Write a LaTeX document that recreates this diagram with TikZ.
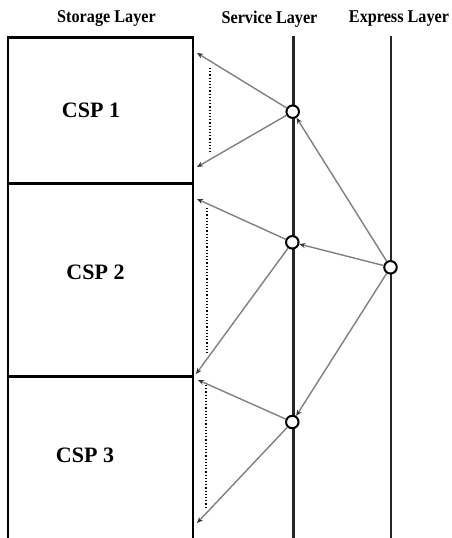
\documentclass[tikz,border=0pt]{standalone}
\usepackage{fontspec}
\setmainfont{Liberation Serif}
\usetikzlibrary{arrows.meta}
\begin{document}
\begin{tikzpicture}[x=1pt,y=-1pt,
  header/.style={font=\fontsize{18}{20}\selectfont\bfseries, xscale=0.9, inner sep=0pt, text=black},
  csplabel/.style={font=\fontsize{22}{24}\selectfont\bfseries, inner sep=0pt},
  layerline/.style={line width=2.8pt, black!85},
  boxline/.style={line width=2.4pt, black},
  hub/.style={circle, draw=black, line width=2pt, fill=white, minimum size=12.5pt, inner sep=0pt},
  link/.style={line width=1.4pt, black!50, -{Stealth[length=6pt,width=5pt,black!80]}},
  guide/.style={dotted, line width=1.2pt, black}
]
\useasboundingbox (0,0) rectangle (452,538);
\fill[white] (0,0) rectangle (452,538);

% headers
\node[header] (hst) at (106.5,19) {Storage Layer};
\node[header] (hsv) at (269.5,19) {Service Layer};
\node[header] (hex) at (399,19) {Express Layer};

% storage layer boxes
\coordinate (bl) at (8,37.5);
\coordinate (br) at (193,37.5);
\draw[boxline] (8,540) -- (bl) -- (br) -- (193,540);
\draw[boxline] (8,183.5) -- (193,183.5);
\draw[boxline] (8,376.5) -- (193,376.5);

\node[csplabel] (c1) at (91,110) {CSP 1};
\node[csplabel] (c2) at (95.5,272) {CSP 2};
\node[csplabel] (c3) at (85,455) {CSP 3};

% layer lines
\coordinate (svtop) at (293.5,36);
\coordinate (svbot) at (293.5,540);
\coordinate (extop) at (391,36);
\coordinate (exbot) at (391,540);
\draw[layerline] (svtop) -- (svbot);
\draw[layerline] (extop) -- (exbot);

% dotted guides
\draw[guide] (210,68) -- (210,152);
\draw[guide] (207,208) -- (207,353);
\draw[guide] (206,385) -- (206,507);

% targets on storage layer
\coordinate (t1a) at (197,53);
\coordinate (t1b) at (197,167);
\coordinate (t2a) at (197,199);
\coordinate (t2b) at (196,374);
\coordinate (t3a) at (198,380);
\coordinate (t3b) at (197,523);

% hubs
\node[hub] (s1) at (292.7,111.7) {};
\node[hub] (s2) at (292.3,242.3) {};
\node[hub] (s3) at (292.3,422) {};
\node[hub] (e) at (390.5,267.3) {};

% connectors
\draw[link] (s1) -- (t1a);
\draw[link] (s1) -- (t1b);
\draw[link] (s2) -- (t2a);
\draw[link] (s2) -- (t2b);
\draw[link] (s3) -- (t3a);
\draw[link] (s3) -- (t3b);
\draw[link] (e) -- (s1);
\draw[link] (e) -- (s2);
\draw[link] (e) -- (s3);
\end{tikzpicture}
\end{document}
